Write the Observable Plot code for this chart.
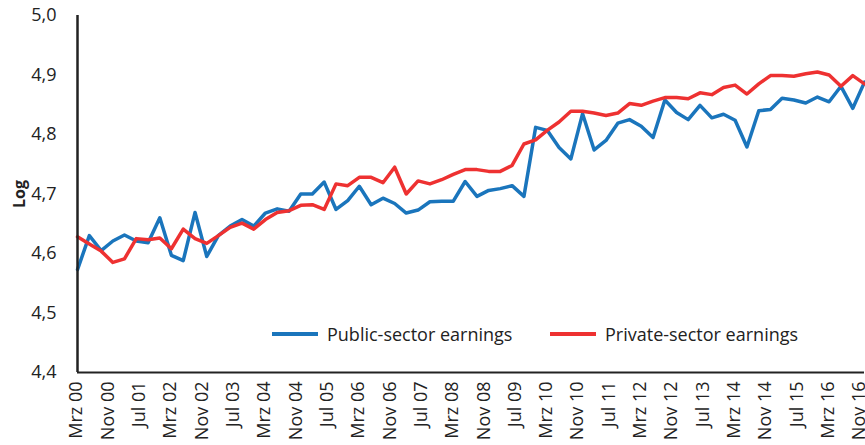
<!DOCTYPE html>
<html><head><meta charset="utf-8">
<script src="https://cdn.jsdelivr.net/npm/d3@7"></script>
<script src="https://cdn.jsdelivr.net/npm/@observablehq/plot@0.6"></script>
<style>
body{margin:0;background:#fff;font-family:"Open Sans",Lato,sans-serif;}
#wrap{position:relative;width:865px;height:445px;}
#wrap svg{display:block;}
g[aria-label="y-axis label"] text{font-weight:bold;font-size:16px;}
.leg{position:absolute;top:322px;height:24px;display:flex;align-items:center;font-size:18px;color:#222;font-family:"Open Sans",Lato,sans-serif;}
.sw{width:46px;height:3.5px;margin-right:9px;}
</style></head><body><div id="wrap"></div>
<script>
// Quarterly observations, Mar 2000 .. Dec 2016
const firstYear = 2000, lastYear = 2016;
const quarterMonths = [2, 5, 8, 11]; // Mar, Jun, Sep, Dec (0-based)
const seriesNames = ["Public-sector earnings", "Private-sector earnings"];
const seriesColors = ["#1a75bc", "#ee3131"];
const publicSector = [
  4.573,4.630,4.605,4.621,4.631,4.621,4.618,4.660,4.597,4.588,
  4.669,4.595,4.630,4.646,4.657,4.646,4.668,4.675,4.671,4.700,
  4.700,4.720,4.674,4.689,4.713,4.682,4.693,4.684,4.668,4.673,
  4.687,4.688,4.688,4.721,4.696,4.706,4.709,4.714,4.696,4.812,
  4.807,4.778,4.759,4.835,4.774,4.790,4.819,4.825,4.814,4.795,
  4.858,4.837,4.825,4.849,4.828,4.834,4.824,4.779,4.840,4.842,
  4.861,4.858,4.853,4.863,4.855,4.881,4.844,4.888
];
const privateSector = [
  4.628,4.616,4.604,4.585,4.591,4.625,4.623,4.626,4.608,4.641,
  4.625,4.617,4.630,4.644,4.651,4.641,4.657,4.669,4.672,4.681,
  4.682,4.674,4.717,4.714,4.728,4.728,4.719,4.745,4.700,4.722,
  4.717,4.724,4.733,4.741,4.741,4.738,4.738,4.748,4.784,4.791,
  4.807,4.821,4.839,4.839,4.836,4.832,4.836,4.852,4.849,4.856,
  4.862,4.862,4.860,4.870,4.867,4.879,4.883,4.868,4.885,4.899,
  4.899,4.898,4.902,4.905,4.900,4.881,4.899,4.885
];
const xTickLabels = ["Mrz 00","Nov 00","Jul 01","Mrz 02","Nov 02","Jul 03","Mrz 04","Nov 04","Jul 05","Mrz 06","Nov 06","Jul 07","Mrz 08","Nov 08","Jul 09","Mrz 10","Nov 10","Jul 11","Mrz 12","Nov 12","Jul 13","Mrz 14","Nov 14","Jul 15","Mrz 16","Nov 16"];
const yTicks = [4.4,4.5,4.6,4.7,4.8,4.9,5.0];

const monthNames = ["Jan","Feb","Mrz","Apr","Mai","Jun","Jul","Aug","Sep","Okt","Nov","Dez"];
const parseLabel = s => { const [m, y] = s.split(" "); return new Date(Date.UTC(2000 + +y, monthNames.indexOf(m), 1)); };
const tickDates = xTickLabels.map(parseLabel);
const fmt = d => monthNames[d.getUTCMonth()] + " " + String(d.getUTCFullYear() % 100).padStart(2, "0");

const dates = [];
for (let y = firstYear; y <= lastYear; y++) for (const m of quarterMonths) dates.push(new Date(Date.UTC(y, m, 1)));
const data = [];
[publicSector, privateSector].forEach((arr, s) => arr.forEach((v, i) => data.push({date: dates[i], value: v, series: seriesNames[s]})));

const x0 = dates[0], x1 = dates[dates.length - 1];
const chart = Plot.plot({
  width: 865, height: 445,
  marginLeft: 77, marginRight: 1, marginTop: 15, marginBottom: 73,
  style: {fontFamily: "'Open Sans', Lato, sans-serif", fontSize: "18px", color: "#222", background: "#fff"},
  x: {type: "utc", domain: [x0, x1]},
  y: {domain: [4.4, 5.0]},
  color: {domain: seriesNames, range: seriesColors},
  marks: [
    Plot.axisX({ticks: tickDates, tickFormat: fmt, tickRotate: -90, tickSize: 0, tickPadding: 9, fontSize: 18, dx: -1, label: null}),
    Plot.axisY({ticks: yTicks, tickFormat: d => d.toFixed(1).replace(".", ","), tickSize: 0, tickPadding: 21, fontSize: 18,
      label: "Log", labelAnchor: "center", labelArrow: "none", labelOffset: 64}),
    Plot.lineY(data.filter(d => d.series === seriesNames[0]), {x: "date", y: "value", stroke: "series", strokeWidth: 3.5, strokeLinejoin: "round"}),
    Plot.lineY(data.filter(d => d.series === seriesNames[1]), {x: "date", y: "value", stroke: "series", strokeWidth: 3.5, strokeLinejoin: "round"}),
    Plot.ruleY([4.4], {stroke: "#222", strokeWidth: 2}),
    Plot.ruleX([x0], {y1: 4.4, y2: 5.0, stroke: "#222", strokeWidth: 2.5})
  ]
});
const wrap = document.getElementById("wrap");
wrap.appendChild(chart);
const legPos = [272, 550];
seriesNames.forEach((n, i) => {
  const d = document.createElement("div");
  d.className = "leg";
  d.style.left = legPos[i] + "px";
  d.innerHTML = `<span class="sw" style="background:${seriesColors[i]}"></span><span>${n}</span>`;
  wrap.appendChild(d);
});
</script></body></html>
